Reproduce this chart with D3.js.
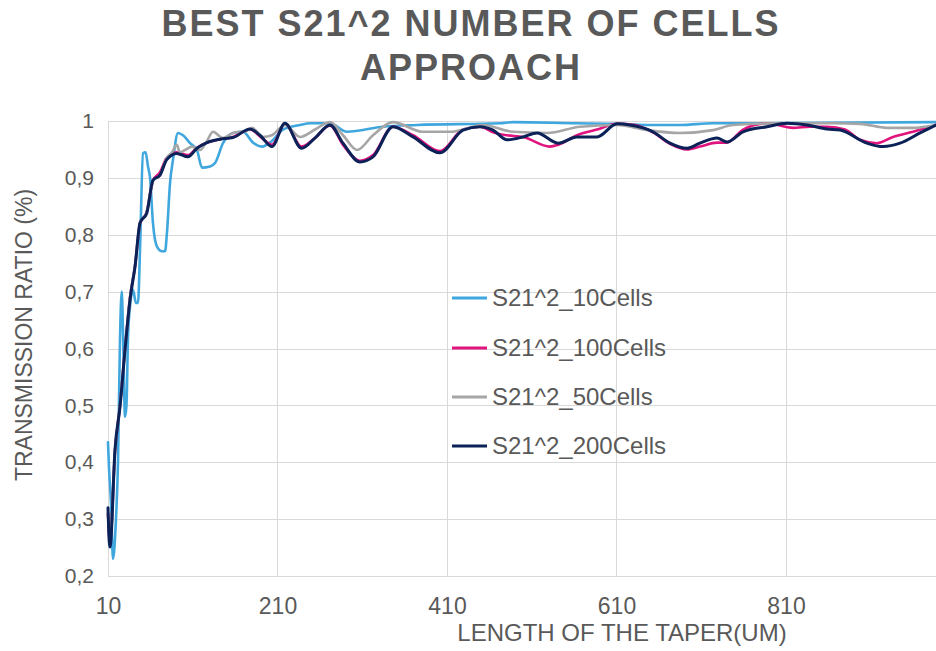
<!DOCTYPE html>
<html>
<head>
<meta charset="utf-8">
<script src="https://cdn.jsdelivr.net/npm/d3@7/dist/d3.min.js"></script>
<style>
  html, body { margin: 0; padding: 0; background: #ffffff; }
  svg { display: block; font-family: "Liberation Sans", Arial, sans-serif; }
</style>
</head>
<body>
<svg id="chart" width="936" height="651"></svg>
<script>
// ---- data ----
const xTicks = [10, 210, 410, 610, 810];
const yTicks = [0.2, 0.3, 0.4, 0.5, 0.6, 0.7, 0.8, 0.9, 1.0];
const seriesNames = ["S21^2_10Cells", "S21^2_100Cells", "S21^2_50Cells", "S21^2_200Cells"];
const seriesColors = ["#3FA7DE", "#E0147F", "#A6A6A6", "#0B2157"];

const x10 = [10, 11.2, 13.5, 15.9, 19.4, 21.8, 24.2, 26.2, 27.7, 30.1, 31.8, 33.6, 36, 39.5, 43, 45.4, 47.8, 51.3, 54.3, 57.2, 59.6, 63.1, 67.8, 73.7, 77.3, 79.6, 83.2, 86.7, 92.6, 98.5, 106.8, 115, 120.9, 130.4, 136.3, 145.7, 157.5, 169.3, 181.1, 191.7, 203.5, 216.5, 236.6, 248.4, 271.9, 292, 334.5, 374.6, 472.6, 487.9, 563.4, 610.6, 646, 685, 724, 767.6, 862, 987];
const y10 = [0.435, 0.39, 0.33, 0.23, 0.30, 0.40, 0.62, 0.70, 0.63, 0.48, 0.50, 0.62, 0.674, 0.703, 0.68, 0.68, 0.774, 0.943, 0.945, 0.92, 0.90, 0.82, 0.779, 0.771, 0.771, 0.804, 0.891, 0.932, 0.979, 0.975, 0.961, 0.949, 0.918, 0.920, 0.926, 0.961, 0.979, 0.981, 0.962, 0.955, 0.965, 0.985, 0.993, 0.996, 0.996, 0.981, 0.990, 0.993, 0.996, 0.998, 0.996, 0.995, 0.993, 0.993, 0.996, 0.996, 0.997, 0.998];

const x100 = [10, 12.4, 18.3, 24.2, 30.1, 36, 41.9, 47.8, 55.7, 63.1, 71.4, 79.3, 91.1, 104.4, 115, 126.8, 142.2, 157.5, 177.6, 191.7, 203.5, 218.8, 238.5, 254.2, 271.9, 287.3, 307.3, 322.7, 346.3, 369.9, 401.7, 428.9, 448.9, 464.3, 480.8, 499.7, 531.5, 541, 563.4, 587, 610.6, 631.8, 653.1, 673.1, 693.2, 708.5, 728.6, 740.4, 759.3, 787.6, 818.3, 838.3, 858.4, 879.6, 897.3, 917.4, 936.3, 959.9, 987];
const y100 = [0.31, 0.26, 0.42, 0.50, 0.60, 0.69, 0.745, 0.82, 0.84, 0.895, 0.91, 0.935, 0.945, 0.94, 0.953, 0.962, 0.968, 0.972, 0.985, 0.970, 0.958, 0.995, 0.955, 0.970, 0.992, 0.958, 0.930, 0.940, 0.990, 0.975, 0.947, 0.985, 0.990, 0.980, 0.975, 0.972, 0.955, 0.958, 0.975, 0.985, 0.995, 0.993, 0.980, 0.960, 0.950, 0.955, 0.962, 0.962, 0.985, 0.996, 0.988, 0.990, 0.990, 0.985, 0.967, 0.961, 0.972, 0.981, 0.993];

const x50 = [10, 12.4, 18.3, 24.2, 30.1, 36, 41.9, 47.8, 55.7, 63.1, 71.4, 79.3, 85.5, 91.1, 95, 100.9, 109.1, 118.6, 126.8, 133.9, 145.7, 157.5, 174, 179.9, 192.9, 203.5, 218.8, 236.6, 254.2, 271.9, 287.3, 303.8, 322.7, 346.3, 381.7, 413.6, 452.5, 487.9, 528, 567, 610.6, 646, 685, 724, 747.5, 806.5, 865.5, 897.3, 929.2, 959.9, 987];
const y50 = [0.31, 0.26, 0.42, 0.50, 0.60, 0.69, 0.745, 0.82, 0.84, 0.895, 0.905, 0.935, 0.945, 0.958, 0.945, 0.949, 0.955, 0.949, 0.965, 0.981, 0.970, 0.979, 0.983, 0.988, 0.972, 0.975, 0.993, 0.972, 0.985, 0.998, 0.975, 0.949, 0.975, 0.998, 0.981, 0.981, 0.993, 0.981, 0.979, 0.990, 0.993, 0.984, 0.979, 0.984, 0.993, 0.996, 0.996, 0.995, 0.988, 0.988, 0.993];

const x200 = [10, 10.8, 12.4, 18.3, 24.2, 30.1, 36, 41.9, 47.8, 55.7, 63.1, 71.4, 79.3, 91.1, 104.4, 115, 126.8, 142.2, 157.5, 177.6, 189.3, 203.5, 218.8, 238.5, 254.2, 271.9, 287.3, 307.3, 322.7, 346.3, 369.9, 401.7, 428.9, 448.9, 464.3, 480.8, 499.7, 516.2, 541, 563.4, 587, 610.6, 625.9, 653.1, 673.1, 693.2, 708.5, 728.6, 740.4, 759.3, 787.6, 811.2, 834.8, 858.4, 873.8, 905.6, 924.5, 944.6, 968.2, 987];
const y200 = [0.32, 0.28, 0.251, 0.423, 0.498, 0.598, 0.686, 0.744, 0.821, 0.838, 0.896, 0.905, 0.932, 0.943, 0.937, 0.952, 0.962, 0.968, 0.971, 0.986, 0.975, 0.955, 0.996, 0.952, 0.970, 0.993, 0.961, 0.928, 0.937, 0.990, 0.972, 0.944, 0.984, 0.990, 0.984, 0.967, 0.972, 0.979, 0.961, 0.972, 0.972, 0.995, 0.993, 0.981, 0.961, 0.952, 0.961, 0.970, 0.963, 0.981, 0.990, 0.996, 0.993, 0.986, 0.984, 0.961, 0.955, 0.961, 0.979, 0.993];

const seriesX = [x10, x100, x50, x200];
const seriesY = [y10, y100, y50, y200];

// ---- layout ----
const svg = d3.select("#chart");
const plotLeft = 108, plotRight = 936, plotTop = 121, plotBottom = 576;
const x = d3.scaleLinear().domain([10, 987]).range([plotLeft, plotRight]);
const y = d3.scaleLinear().domain([0.2, 1.0]).range([plotBottom, plotTop]);
const textColor = "#595959";
const gridColor = "#D9D9D9";

// title
const title = svg.append("text")
  .attr("x", 471).attr("text-anchor", "middle")
  .attr("font-size", 36).attr("font-weight", "bold")
  .attr("letter-spacing", 2).attr("fill", textColor);
title.append("tspan").attr("x", 471).attr("y", 36).text("BEST S21^2 NUMBER OF CELLS");
title.append("tspan").attr("x", 471).attr("y", 80).text("APPROACH");

// gridlines
const grid = svg.append("g");
grid.selectAll("line.h").data(yTicks).join("line")
  .attr("x1", plotLeft).attr("x2", plotRight)
  .attr("y1", d => Math.round(y(d)) + 0.5).attr("y2", d => Math.round(y(d)) + 0.5)
  .attr("stroke", gridColor).attr("stroke-width", 1);
grid.selectAll("line.v").data(xTicks).join("line")
  .attr("y1", plotTop).attr("y2", plotBottom)
  .attr("x1", d => Math.round(x(d)) + 0.5).attr("x2", d => Math.round(x(d)) + 0.5)
  .attr("stroke", gridColor).attr("stroke-width", 1);

// axes via d3
const yAxis = d3.axisLeft(y).tickValues(yTicks).tickSize(0).tickPadding(14)
  .tickFormat(d => d === 1 ? "1" : d3.format(".1f")(d).replace(".", ","));
const gy = svg.append("g").attr("transform", `translate(${plotLeft},0)`).call(yAxis);
gy.select(".domain").remove();
gy.selectAll("text").attr("font-size", 21).attr("fill", textColor)
  .attr("font-family", "Liberation Sans, Arial, sans-serif");

const xAxis = d3.axisBottom(x).tickValues(xTicks).tickSize(0).tickPadding(22)
  .tickFormat(d3.format("d"));
const gx = svg.append("g").attr("transform", `translate(0,${plotBottom})`).call(xAxis);
gx.select(".domain").remove();
gx.selectAll("text").attr("font-size", 23).attr("fill", textColor)
  .attr("font-family", "Liberation Sans, Arial, sans-serif");

// axis titles
svg.append("text").attr("x", 622).attr("y", 641).attr("text-anchor", "middle")
  .attr("font-size", 24).attr("fill", textColor).text("LENGTH OF THE TAPER(UM)");
svg.append("text").attr("transform", "translate(32,335) rotate(-90)")
  .attr("text-anchor", "middle").attr("font-size", 23).attr("fill", textColor)
  .text("TRANSMISSION RATIO (%)");

// lines
const line = d3.line().x(d => x(d[0])).y(d => y(d[1])).curve(d3.curveMonotoneX);
const lineG = svg.append("g");
seriesNames.forEach((name, i) => {
  const pts = seriesX[i].map((xv, j) => [xv, seriesY[i][j]]);
  lineG.append("path").datum(pts)
    .attr("d", line)
    .attr("fill", "none")
    .attr("stroke", seriesColors[i])
    .attr("stroke-width", i === 3 ? 3 : 2.6)
    .attr("stroke-linejoin", "round")
    .attr("stroke-linecap", "round");
});

// legend
const legendY = [298, 348, 397, 446];
const lg = svg.append("g");
seriesNames.forEach((name, i) => {
  lg.append("line").attr("x1", 452).attr("x2", 487)
    .attr("y1", legendY[i]).attr("y2", legendY[i])
    .attr("stroke", seriesColors[i]).attr("stroke-width", 3);
  lg.append("text").attr("x", 492).attr("y", legendY[i] + 8)
    .attr("font-size", 24).attr("fill", textColor).text(name);
});
</script>
</body>
</html>
